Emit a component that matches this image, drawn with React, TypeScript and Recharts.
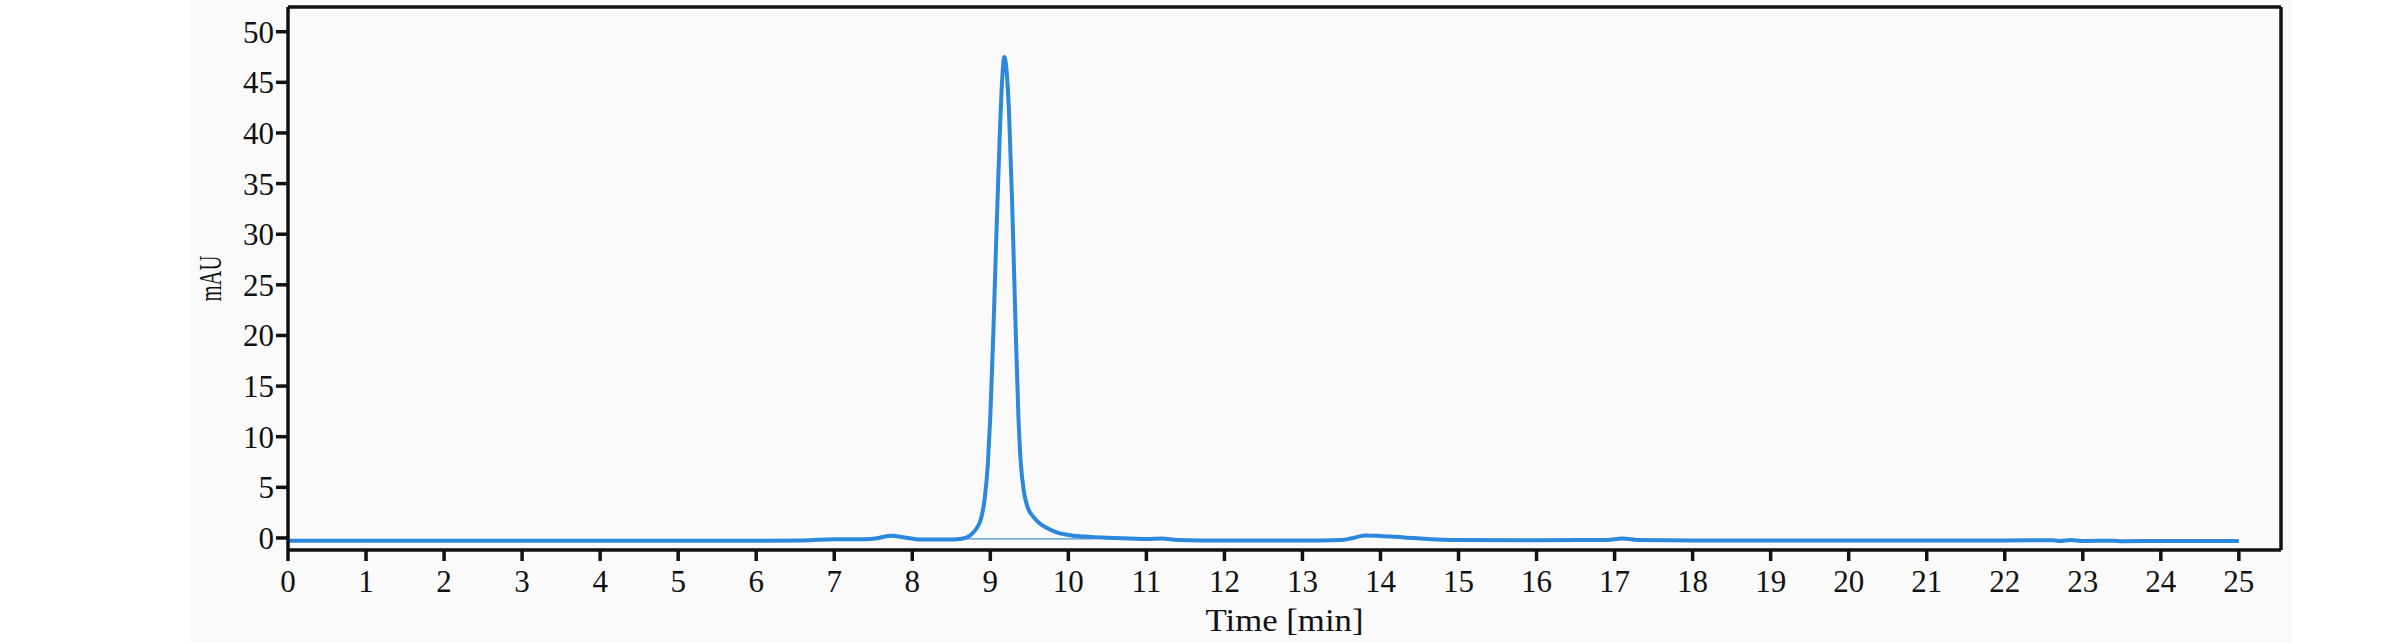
import React from "react";
import { LineChart, Line, XAxis, YAxis, ReferenceLine } from "recharts";

const W = 2382;
const H = 643;

// Retention time [min]
const times = [
  0, 2, 4, 6, 6.6, 7.0, 7.4, 7.55, 7.73, 7.9, 8.1, 8.5, 8.65, 8.75, 8.82, 8.88,
  8.93, 8.97, 9.0, 9.04, 9.08, 9.12, 9.15, 9.18, 9.21, 9.24, 9.28, 9.32, 9.36,
  9.39, 9.43, 9.48, 9.55, 9.63, 9.72, 9.85, 10.0, 10.2, 10.6, 11.0, 11.2, 11.4,
  12.0, 13.0, 13.5, 13.65, 13.8, 14.0, 14.3, 14.9, 16.0, 16.9, 17.1, 17.3, 18,
  20, 22, 22.6, 22.7, 22.85, 23.0, 23.4, 23.5, 24, 25,
];
// Absorbance [mAU]
const mau = [
  -0.27, -0.27, -0.27, -0.27, -0.25, -0.12, -0.12, -0.02, 0.22, 0.05, -0.15,
  -0.15, -0.05, 0.3, 0.9, 1.9, 4.0, 7.5, 12.0, 20.5, 30.5, 39.5, 45.0, 47.5,
  46.0, 42.0, 33.0, 22.0, 12.0, 7.5, 4.6, 3.0, 2.1, 1.45, 1.0, 0.55, 0.3, 0.15,
  0.0, -0.1, -0.05, -0.2, -0.25, -0.25, -0.2, 0.0, 0.25, 0.2, 0.05, -0.2, -0.22,
  -0.2, -0.05, -0.2, -0.25, -0.25, -0.25, -0.22, -0.3, -0.2, -0.3, -0.27, -0.33,
  -0.3, -0.3,
];
// Integration baseline under the main peak
const baseTimes = [8.6, 10.3];
const baseMau = [-0.1, -0.1];

const xTicks = [0, 1, 2, 3, 4, 5, 6, 7, 8, 9, 10, 11, 12, 13, 14, 15, 16, 17, 18, 19, 20, 21, 22, 23, 24, 25];
const yTicks = [0, 5, 10, 15, 20, 25, 30, 35, 40, 45, 50];
const xDomain = [0, 25.54];
const yDomain = [-1.19, 52.44];

const xLabel = "Time [min]";
const yLabel = "mAU";

const trace = times.map((t, i) => ({ t, v: mau[i] }));
const baseline = baseTimes.map((t, i) => ({ t, v: baseMau[i] }));

const FONT = "'Liberation Serif', 'DejaVu Serif', serif";
const AX = "#111";
const AXW = 3.5;

const tickStyle = { fontFamily: FONT, fontSize: 31, fill: "#111" };

const YLabel = (props: any) => {
  const vb = props.viewBox || {};
  const cx = (vb.x ?? 0) + 210;
  const cy = (vb.y ?? 0) + (vb.height ?? 0) / 2;
  return (
    <text
      x={cx}
      y={cy}
      transform={`rotate(-90, ${cx}, ${cy})`}
      textAnchor="middle"
      dominantBaseline="central"
      fontFamily={FONT}
      fontSize={31}
      fill="#111"
      textLength={46}
      lengthAdjust="spacingAndGlyphs"
    >
      {yLabel}
    </text>
  );
};

const XLabel = (props: any) => {
  const vb = props.viewBox || {};
  const cx = (vb.x ?? 0) + (vb.width ?? 0) / 2;
  const cy = (vb.y ?? 0) + 81;
  return (
    <text
      x={cx}
      y={cy}
      textAnchor="middle"
      fontFamily={FONT}
      fontSize={31}
      fill="#111"
      textLength={158}
      lengthAdjust="spacingAndGlyphs"
    >
      {xLabel}
    </text>
  );
};

export default function App() {
  return (
    <div
      style={{
        position: "fixed",
        left: 0,
        top: 0,
        width: W,
        height: H,
        background: "#ffffff",
        overflow: "hidden",
      }}
    >
      <div
        style={{
          position: "absolute",
          left: 190,
          top: 0,
          width: 2102,
          height: H,
          background: "#fafafa",
        }}
      />
      <div style={{ position: "absolute", left: 0, top: 0 }}>
        <LineChart
          width={W}
          height={H}
          margin={{ top: 7, right: 101, bottom: 0, left: 0 }}
        >
          <XAxis
            dataKey="t"
            type="number"
            domain={xDomain}
            allowDataOverflow
            ticks={xTicks}
            interval={0}
            height={93}
            tickSize={11}
            tickMargin={9}
            tick={tickStyle}
            axisLine={{ stroke: AX, strokeWidth: AXW }}
            tickLine={{ stroke: AX, strokeWidth: AXW }}
            label={<XLabel />}
          />
          <YAxis
            type="number"
            domain={yDomain}
            allowDataOverflow
            ticks={yTicks}
            interval={0}
            width={288}
            tickSize={12}
            tickMargin={2}
            tick={tickStyle}
            axisLine={{ stroke: AX, strokeWidth: AXW }}
            tickLine={{ stroke: AX, strokeWidth: AXW }}
            label={<YLabel />}
          />
          <ReferenceLine
            y={yDomain[1]}
            stroke={AX}
            strokeWidth={AXW}
            ifOverflow="visible"
          />
          <ReferenceLine
            x={xDomain[1]}
            stroke={AX}
            strokeWidth={AXW}
            ifOverflow="visible"
          />
          <Line
            data={baseline}
            dataKey="v"
            type="linear"
            stroke="#4a8fd6"
            strokeWidth={1.3}
            dot={false}
            isAnimationActive={false}
          />
          <Line
            data={trace}
            dataKey="v"
            type="monotone"
            stroke="#2b88dc"
            strokeWidth={4}
            dot={false}
            isAnimationActive={false}
          />
        </LineChart>
      </div>
    </div>
  );
}
